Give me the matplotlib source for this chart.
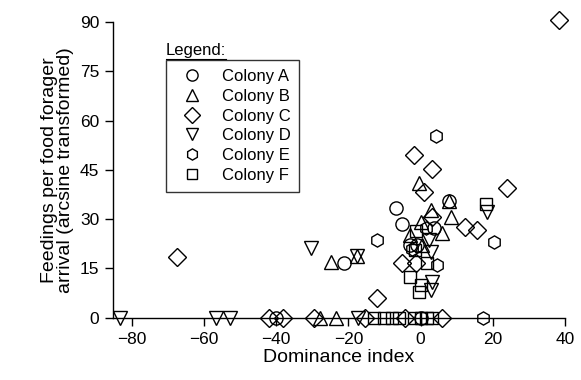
import matplotlib
matplotlib.use("Agg")
import matplotlib.pyplot as plt
from matplotlib.lines import Line2D

plt.rcParams['font.family'] = ['Liberation Sans', 'DejaVu Sans']

# Colony A (circle)
a_x = [-40.0, -21.2, -6.9, -5.1, -2.8, 3.7, 7.9, 0.0, -1.0]
a_y = [0, 16.5, 33.3, 28.4, 22.1, 27.2, 35.6, 0, 22.0]
# Colony B (up triangle)
b_x = [-27.8, -23.3, -24.8, -17.6, -0.5, 2.8, 8.3, 7.9, 6.0, -2.8, 0.0, 0.5]
b_y = [0, 0, 17.0, 18.8, 40.9, 32.8, 30.7, 35.4, 25.7, 25.2, 29.2, 22.0]
# Colony C (diamond)
c_x = [-67.6, -42.0, -38.1, -29.4, -15.3, -12.0, -5.1, -1.7, 3.1, 0.9, 3.2,
       12.2, 15.5, 23.9, 38.4, 6.0, -4.2, -1.4]
c_y = [18.4, 0, 0, 0, 0, 5.9, 16.5, 49.5, 45.4, 38.3, 30.7,
       27.5, 26.7, 39.6, 90.6, 0, 0, 16.6]
# Colony D (down triangle)
d_x = [-83.2, -56.7, -52.8, -17.3, -30.3, -17.6, 18.5, 2.3, 2.8, 3.2, 2.8]
d_y = [0, 0, 0, 0, 21.1, 18.8, 32.1, 23.6, 20.1, 11.0, 8.4]
# Colony E (hexagon)
e_x = [-12.0, 4.4, 20.4, 1.4, 4.6, 17.4, -2.5]
e_y = [23.8, 55.4, 23.1, 27.2, 16.0, 0, 21.0]
# Colony F (square)
f_x = [-13.0, -10.2, -7.9, -6.0, -1.9, 0.0, 1.9, 3.2, -1.2, -1.6, 1.9, -2.8,
       0.0, -0.5, 18.2]
f_y = [0, 0, 0, 0, 0, 0, 0, 0, 26.4, 20.6, 16.5, 12.5, 10.0, 7.9, 34.6]

colonies = ['Colony A', 'Colony B', 'Colony C', 'Colony D', 'Colony E', 'Colony F']
markers = ['o', '^', 'D', 'v', 'h', 's']
xs = [a_x, b_x, c_x, d_x, e_x, f_x]
ys = [a_y, b_y, c_y, d_y, e_y, f_y]
sizes = [9.5, 9.5, 9.0, 9.5, 9.5, 9.0]

x_ticks = [-80, -60, -40, -20, 0, 20, 40]
y_ticks = [0, 15, 30, 45, 60, 75, 90]

fig = plt.figure(figsize=(5.81, 3.80), dpi=100)
ax = fig.add_axes([113/581, 1 - 317.7/380, (565 - 113)/581, (317.7 - 22)/380])

for x, y, m, s in zip(xs, ys, markers, sizes):
    ax.plot(x, y, linestyle='none', marker=m, markersize=s,
            markerfacecolor='none', markeredgecolor='black',
            markeredgewidth=1.0, clip_on=False, zorder=3)

ax.set_xlim(-85.2, 40)
ax.set_ylim(0, 90)
ax.set_xticks(x_ticks)
ax.set_yticks(y_ticks)
ax.spines['top'].set_visible(False)
ax.spines['right'].set_visible(False)
for sp in ['left', 'bottom']:
    ax.spines[sp].set_linewidth(1.0)
ax.tick_params(direction='out', length=6, width=1.0, labelsize=12.5, pad=4)
ax.set_xlabel('Dominance index', fontsize=14, labelpad=2)
ax.set_ylabel('Feedings per food forager\narrival (arcsine transformed)',
              fontsize=14, labelpad=4, linespacing=0.95)

handles = [Line2D([], [], linestyle='none', marker=m, markersize=s * 0.85,
                  markerfacecolor='none', markeredgecolor='black',
                  markeredgewidth=1.0)
           for m, s in zip(markers, sizes)]
leg = ax.legend(handles, colonies, loc='upper left',
                bbox_to_anchor=(165.7/581, 1 - 60/380),
                bbox_transform=fig.transFigure,
                frameon=True, fancybox=False, fontsize=12,
                handlelength=2.1, handletextpad=0.7, labelspacing=0.28,
                borderpad=0.55, borderaxespad=0, markerscale=1.0)
leg.get_frame().set_edgecolor('black')
leg.get_frame().set_linewidth(1.0)
fig.text(166/581, 1 - 58.5/380, 'Legend:', fontsize=12, ha='left', va='bottom')
fig.add_artist(Line2D([166/581, 226/581], [1 - 59/380, 1 - 59/380],
                      color='black', linewidth=0.8, transform=fig.transFigure))

fig.savefig('out.png', dpi=100)
